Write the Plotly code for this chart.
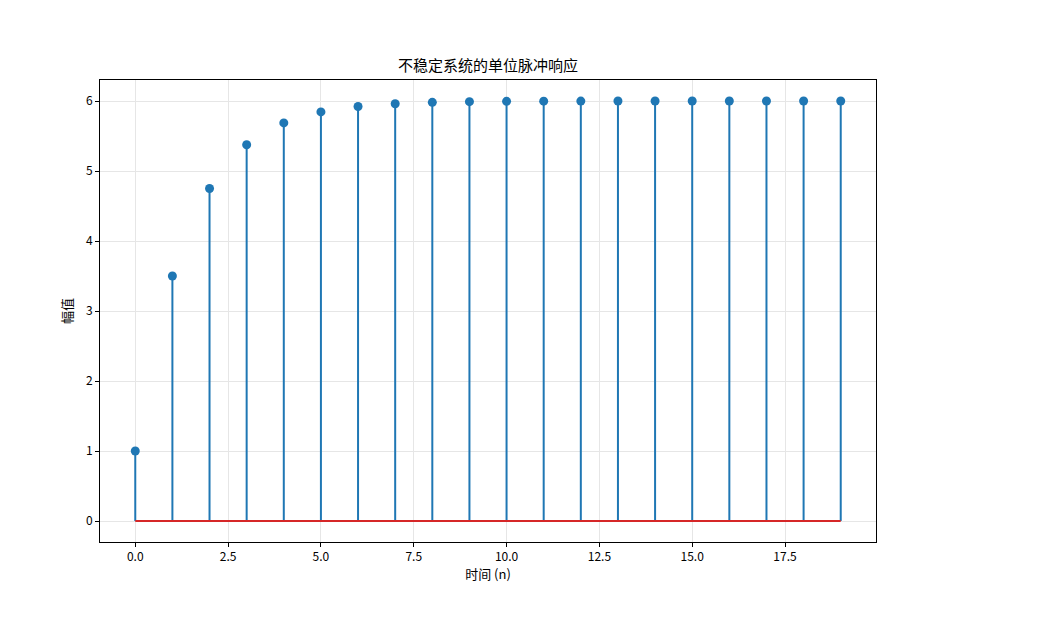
import plotly.graph_objects as go

n = list(range(20))
h = [1.0, 3.5, 4.75, 5.375, 5.6875, 5.84375, 5.921875, 5.9609, 5.9805, 5.9902,
     5.9951, 5.9976, 5.9988, 5.9994, 5.9997, 5.9998, 5.9999, 6.0, 6.0, 6.0]
x_ticks = [0, 2.5, 5, 7.5, 10, 12.5, 15, 17.5]
x_tick_labels = ["0.0", "2.5", "5.0", "7.5", "10.0", "12.5", "15.0", "17.5"]
y_ticks = [0, 1, 2, 3, 4, 5, 6]

FONT = "Noto Sans CJK SC, SimHei, sans-serif"
BLUE = "#1f77b4"
RED = "#d62728"

sx, sy = [], []
for xi, yi in zip(n, h):
    sx += [xi, xi, None]
    sy += [0, yi, None]

fig = go.Figure()
fig.add_trace(go.Scatter(x=sx, y=sy, mode="lines", line=dict(color=BLUE, width=2),
                         hoverinfo="skip", showlegend=False))
fig.add_trace(go.Scatter(x=[n[0], n[-1]], y=[0, 0], mode="lines",
                         line=dict(color=RED, width=2), showlegend=False))
fig.add_trace(go.Scatter(x=n, y=h, mode="markers",
                         marker=dict(color=BLUE, size=9), showlegend=False))

axis_common = dict(showline=True, linecolor="black", linewidth=1, mirror=True,
                   ticks="outside", ticklen=4, tickcolor="black",
                   showgrid=True, gridcolor="#e6e6e6", gridwidth=1, zeroline=False,
                   tickfont=dict(family=FONT, size=12, color="black"))

fig.update_layout(
    width=1043, height=622,
    margin=dict(l=92, r=175, t=72, b=88),
    paper_bgcolor="white", plot_bgcolor="white",
    title=dict(text="不稳定系统的单位脉冲响应", x=(488 - 8) / 1043, xanchor="center",
               y=1 - (66 - 8) / 622, yanchor="middle",
               font=dict(family=FONT, size=15, color="black")),
    xaxis=dict(range=[-0.95, 19.95], tickvals=x_ticks, ticktext=x_tick_labels,
               title=dict(text="时间 (n)", font=dict(family=FONT, size=13, color="black"), standoff=6),
               **axis_common),
    yaxis=dict(range=[-0.3, 6.3], tickvals=y_ticks,
               title=dict(text="幅值", font=dict(family=FONT, size=13, color="black"), standoff=10),
               **axis_common),
)

fig.write_html("out.html")
